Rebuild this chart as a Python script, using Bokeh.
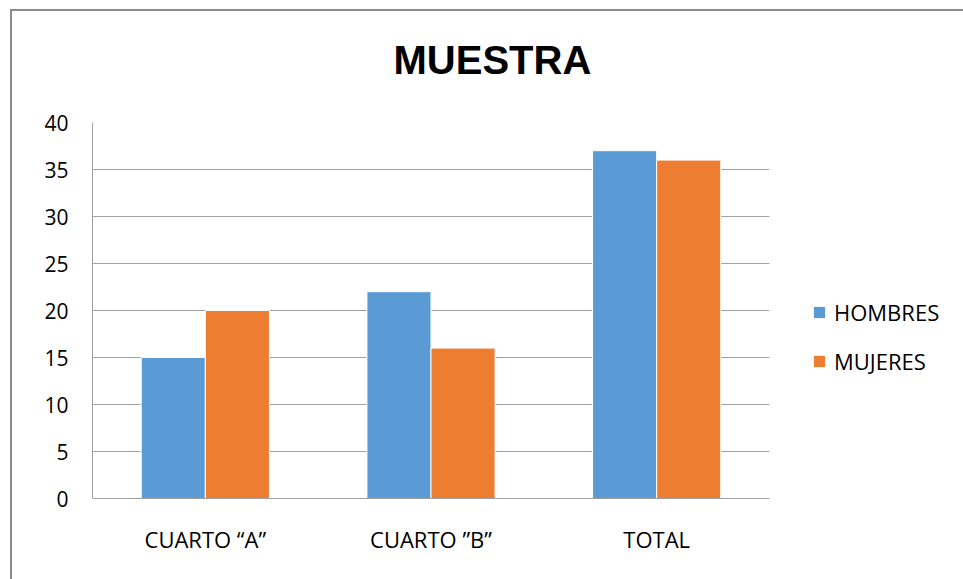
from bokeh.plotting import figure
from bokeh.layouts import row
from bokeh.models import (FactorRange, ColumnDataSource, Legend, LegendItem, Range1d,
                          SingleIntervalTicker, Title)
from bokeh.transform import dodge
from bokeh.embed import file_html
from bokeh.resources import INLINE

categories = ["CUARTO \u201cA\u201d", "CUARTO \u201dB\u201d", "TOTAL"]
hombres = [15, 22, 37]
mujeres = [20, 16, 36]
series_names = ["HOMBRES", "MUJERES"]
colors = ["#5B9BD5", "#ED7D31"]
title_text = "MUESTRA"

FONT = "Open Sans"

src = ColumnDataSource(dict(cat=categories, hombres=hombres, mujeres=mujeres))

# main chart
p = figure(x_range=FactorRange(*categories), y_range=Range1d(0, 40),
           width=759, height=568, output_backend="svg", toolbar_location=None,
           min_border_left=80, min_border_right=2, min_border_top=111, min_border_bottom=81)

p.title.text = title_text
p.title.text_font = "Liberation Sans"
p.title.text_font_style = "bold"
p.title.text_font_size = "40px"
p.title.align = "left"
p.title.offset = 301
p.title.standoff = 0
p.title.text_color = "#000000"
# spacer between title and plot area
p.add_layout(Title(text=" ", text_font_size="10px", standoff=28), "above")

w = 0.284
p.vbar(x=dodge("cat", -w / 2, range=p.x_range), top="hombres", width=w, source=src,
       fill_color=colors[0], line_color="white", line_width=1)
p.vbar(x=dodge("cat", w / 2, range=p.x_range), top="mujeres", width=w, source=src,
       fill_color=colors[1], line_color="white", line_width=1)

p.yaxis.ticker = SingleIntervalTicker(interval=5)
for ax in (p.xaxis, p.yaxis):
    ax.major_label_text_font = FONT
    ax.major_label_text_color = "#000000"
    ax.major_tick_line_color = None
    ax.minor_tick_line_color = None
    ax.axis_line_color = "#a0a0a0"
    ax.axis_line_width = 1
p.xaxis.major_label_text_font_size = "22px"
p.yaxis.major_label_text_font_size = "21px"
p.xaxis.major_label_standoff = 19
p.yaxis.major_label_standoff = 18

p.xgrid.grid_line_color = None
p.ygrid.grid_line_color = "#a0a0a0"
p.ygrid.grid_line_width = 1
p.outline_line_color = None
p.x_range.range_padding = 0

# legend panel
p2 = figure(x_range=p.x_range, y_range=p.y_range, width=192, height=568,
            output_backend="svg", toolbar_location=None,
            x_axis_location=None, y_axis_location=None, min_border=0)
p2.grid.visible = False
p2.outline_line_color = None
lr1 = p2.vbar(x=dodge("cat", -w / 2, range=p.x_range), top="hombres", width=w, source=src,
              fill_color=colors[0], line_color=None, visible=False)
lr2 = p2.vbar(x=dodge("cat", w / 2, range=p.x_range), top="mujeres", width=w, source=src,
              fill_color=colors[1], line_color=None, visible=False)

legend = Legend(items=[LegendItem(label=series_names[0], renderers=[lr1]),
                       LegendItem(label=series_names[1], renderers=[lr2])],
                location=(41, 122), glyph_width=14, glyph_height=14, label_height=14,
                spacing=19, padding=0, margin=0, label_standoff=8,
                label_text_font=FONT, label_text_font_size="22px", label_text_color="#000000",
                click_policy="none", border_line_color=None, background_fill_alpha=0)
p2.add_layout(legend, "center")

layout = row(p, p2, spacing=0, margin=(9, 0, 0, 10),
             styles={"border-left": "2px solid #8c8c8c", "border-top": "2px solid #8c8c8c"})

open("out.html", "w").write(file_html(layout, INLINE))
